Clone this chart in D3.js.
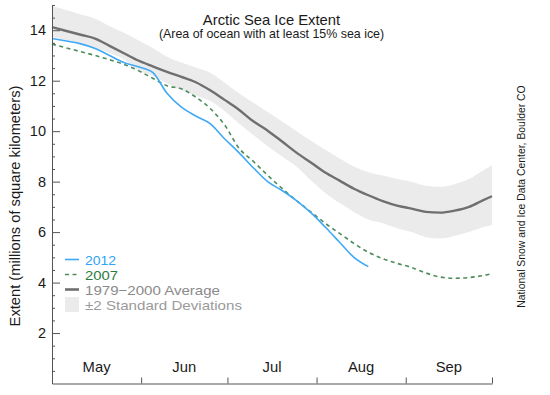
<!DOCTYPE html>
<html>
<head>
<meta charset="utf-8">
<script src="https://cdn.jsdelivr.net/npm/d3@7"></script>
<style>
  html, body { margin: 0; padding: 0; background: #fff; }
  svg { display: block; font-family: "Liberation Sans", Arial, Helvetica, sans-serif; }
</style>
</head>
<body>
<svg id="chart" width="550" height="395"></svg>
<script>
// ---- data (day offsets from May 1) ----
const days = [0,5,10,15,20,25,30,35,40,45,50,55,60,65,70,75,80,85,90,95,100,105,110,115,120,125,130,135,140,145,150,153];
const avgValues = [14.12,13.97,13.82,13.67,13.38,13.09,12.8,12.57,12.35,12.15,11.94,11.62,11.24,10.85,10.39,10.02,9.59,9.15,8.76,8.36,8.04,7.72,7.46,7.23,7.05,6.93,6.80,6.77,6.85,7.0,7.27,7.42];
const upperValues = [14.95,14.8,14.62,14.46,14.17,13.9,13.6,13.3,12.95,12.72,12.52,12.32,11.93,11.5,11.13,10.76,10.38,10.0,9.62,9.26,8.92,8.6,8.37,8.24,8.1,8.0,7.84,7.8,7.9,8.1,8.45,8.65];
const lowerValues = [13.73,13.6,13.45,13.3,13.1,12.85,12.4,12.2,11.9,11.62,11.4,11.2,10.8,10.3,9.85,9.4,9.0,8.6,8.05,7.55,7.15,6.8,6.5,6.35,6.15,6.0,5.8,5.75,5.85,6.0,6.2,6.28];
const values2012 = [13.67,13.57,13.46,13.28,13.0,12.72,12.55,12.33,11.5,10.95,10.6,10.3,9.7,9.15,8.55,8.0,7.65,7.25,6.77,6.2,5.6,5.0,4.63];
const values2007 = [13.45,13.3,13.15,13.0,12.83,12.65,12.4,12.1,11.8,11.68,11.35,10.9,10.25,9.33,8.8,8.25,7.73,7.25,6.8,6.35,5.95,5.55,5.2,4.95,4.76,4.6,4.38,4.22,4.17,4.2,4.28,4.35];
const yTickValues = [2,4,6,8,10,12,14];
const monthNames = ["May","Jun","Jul","Aug","Sep"];
const legendLabels = ["2012","2007","1979\u22122000 Average","\u00b12 Standard Deviations"];

const svg = d3.select("#chart");
const start = new Date(Date.UTC(2012,4,1));
const end = new Date(Date.UTC(2012,9,1));
const dateOf = d => d3.utcDay.offset(start, d);

const x = d3.scaleUtc().domain([start, end]).range([52, 492]);
const y = d3.scaleLinear().domain([0, 15]).range([383.5, 5]);

// band
const bandData = days.map((d,i) => ({d, lo: lowerValues[i], hi: upperValues[i]}));
svg.append("path")
  .datum(bandData)
  .attr("fill", "#ebebeb")
  .attr("d", d3.area().curve(d3.curveMonotoneX)
    .x(p => x(dateOf(p.d))).y0(p => y(p.lo)).y1(p => y(p.hi)));

const line = d3.line().curve(d3.curveMonotoneX).x(p => x(dateOf(p[0]))).y(p => y(p[1]));

// average
svg.append("path").datum(days.map((d,i)=>[d, avgValues[i]]))
  .attr("fill","none").attr("stroke","#6f6f6f").attr("stroke-width",2.4).attr("d", line);
// 2007
svg.append("path").datum(days.map((d,i)=>[d, values2007[i]]))
  .attr("fill","none").attr("stroke","#4d8c5c").attr("stroke-width",1.6)
  .attr("stroke-dasharray","4,3.5").attr("d", line);
// 2012
svg.append("path").datum(values2012.map((v,i)=>[days[i], v]))
  .attr("fill","none").attr("stroke","#3fa9f5").attr("stroke-width",1.6).attr("d", line);

// y axis
const axisColor = "#555";
const yAxis = d3.axisLeft(y).tickValues(d3.range(0.5, 15.01, 0.5)).tickSizeInner(-3).tickSizeOuter(0).tickFormat("");
const ya = svg.append("g").attr("transform","translate(52,0)").call(yAxis);
ya.select(".domain").attr("stroke", axisColor);
ya.selectAll(".tick line").attr("stroke", axisColor)
  .attr("x2", d => yTickValues.includes(d) ? 8 : 3);
const yl = d3.axisLeft(y).tickValues(yTickValues).tickSize(0).tickPadding(6).tickFormat(d3.format("d"));
const yla = svg.append("g").attr("transform","translate(52,0)").call(yl);
yla.select(".domain").remove();
yla.selectAll("text").attr("font-size", 14.5).attr("fill", "#1a1a1a").attr("font-family", "Liberation Sans, Arial, sans-serif");

// x axis
const monthStarts = d3.utcMonth.range(d3.utcMonth.offset(start,1), d3.utcDay.offset(end,1));
const xAxis = d3.axisBottom(x).tickValues(monthStarts).tickSize(-6).tickSizeOuter(0).tickFormat("");
const xa = svg.append("g").attr("transform","translate(0,383.5)").call(xAxis);
xa.select(".domain").attr("stroke", axisColor);
xa.selectAll(".tick line").attr("stroke", axisColor);
const monthMids = d3.utcMonth.range(start, end).map(m => new Date((+m + +d3.utcMonth.offset(m,1))/2));
svg.append("g").selectAll("text").data(monthMids).join("text")
  .attr("x", d => x(d)).attr("y", 372)
  .attr("text-anchor","middle").attr("font-size", 14.8).attr("fill","#1a1a1a")
  .text((d,i) => monthNames[i]);

// titles
svg.append("text").attr("x", 271.5).attr("y", 25).attr("text-anchor","middle")
  .attr("font-size", 14.8).attr("fill","#1a1a1a").text("Arctic Sea Ice Extent");
svg.append("text").attr("x", 271.5).attr("y", 37.5).attr("text-anchor","middle")
  .attr("font-size", 12.4).attr("fill","#1a1a1a").text("(Area of ocean with at least 15% sea ice)");

// y label
svg.append("text").attr("transform","translate(20,206) rotate(-90)").attr("text-anchor","middle")
  .attr("font-size", 14.7).attr("fill","#1a1a1a").text("Extent (millions of square kilometers)");
// credit
svg.append("text").attr("transform","translate(525,196.5) rotate(-90)").attr("text-anchor","middle")
  .attr("font-size", 10.4).attr("fill","#1a1a1a").text("National Snow and Ice Data Center, Boulder CO");

// legend
const lg = svg.append("g");
const rowsY = [259.5, 274.5, 289.5, 304.5];
const colors = ["#2fa3f5","#2d7a3e","#8a8a8a","#9a9a9a"];
lg.append("line").attr("x1",65).attr("x2",79).attr("y1",rowsY[0]).attr("y2",rowsY[0]).attr("stroke","#3fa9f5").attr("stroke-width",1.6);
lg.append("line").attr("x1",65).attr("x2",79).attr("y1",rowsY[1]).attr("y2",rowsY[1]).attr("stroke","#4d8c5c").attr("stroke-width",1.6).attr("stroke-dasharray","4,3.5");
lg.append("line").attr("x1",65).attr("x2",79).attr("y1",rowsY[2]).attr("y2",rowsY[2]).attr("stroke","#6f6f6f").attr("stroke-width",2.6);
lg.append("rect").attr("x",65).attr("y",297).attr("width",14).attr("height",15).attr("fill","#ebebeb");
lg.selectAll("text").data(legendLabels).join("text")
  .attr("x", 85).attr("y", (d,i) => rowsY[i] + 5)
  .attr("font-size", 13.5).attr("textLength", (d,i) => [31, 33, 135, 157][i])
  .attr("lengthAdjust", "spacingAndGlyphs")
  .attr("fill", (d,i) => colors[i]).text(d => d);
</script>
</body>
</html>
